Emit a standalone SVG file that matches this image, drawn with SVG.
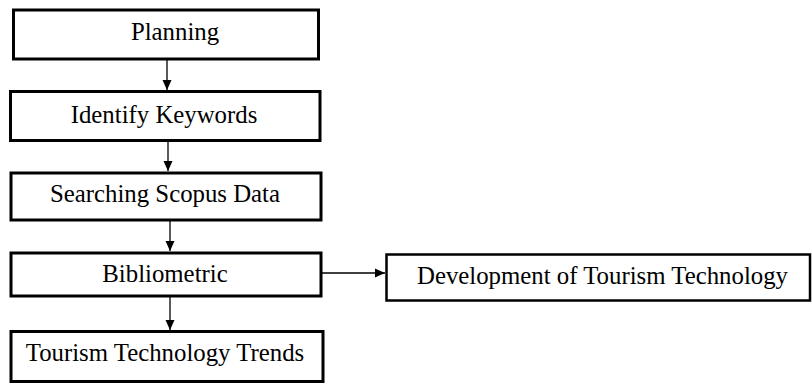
<svg xmlns="http://www.w3.org/2000/svg" width="812" height="385" viewBox="0 0 812 385">
<defs>
<style>
.box{fill:#fff;stroke:#000;stroke-width:3}
.box2{fill:#fff;stroke:#000;stroke-width:2.5}
.lbl{font-family:"Liberation Serif","Times New Roman",serif;font-size:24.8px;fill:#000;text-anchor:middle}
.conn{stroke:#000;stroke-width:1.3;fill:none}
</style>
<marker id="ah" viewBox="0 0 10 10" refX="10" refY="5" markerWidth="10" markerHeight="10" markerUnits="userSpaceOnUse" orient="auto">
<path d="M0,0.5 L10,5 L0,9.5 Z" fill="#000"/>
</marker>
</defs>
<rect width="812" height="385" fill="#fff"/>
<g id="connectors">
<line class="conn" x1="167" y1="60" x2="167" y2="90" marker-end="url(#ah)"/>
<line class="conn" x1="168" y1="142" x2="168" y2="171" marker-end="url(#ah)"/>
<line class="conn" x1="170" y1="221" x2="170" y2="251" marker-end="url(#ah)"/>
<line class="conn" x1="170" y1="297" x2="170" y2="330" marker-end="url(#ah)"/>
<line class="conn" x1="322" y1="273" x2="385" y2="273" marker-end="url(#ah)"/>
</g>
<g id="planning">
<rect class="box" x="13.5" y="10" width="305" height="49"/>
<text class="lbl" x="175" y="40">Planning</text>
</g>
<g id="identify-keywords">
<rect class="box" x="10.5" y="91.5" width="309.5" height="49"/>
<text class="lbl" x="164" y="123">Identify Keywords</text>
</g>
<g id="searching-scopus-data">
<rect class="box" x="11" y="173" width="310" height="47"/>
<text class="lbl" x="165" y="202">Searching Scopus Data</text>
</g>
<g id="bibliometric">
<rect class="box" x="11" y="253" width="310" height="43"/>
<text class="lbl" x="165" y="282">Bibliometric</text>
</g>
<g id="tourism-technology-trends">
<rect class="box" x="11" y="331.5" width="312" height="50"/>
<text class="lbl" x="165" y="361">Tourism Technology Trends</text>
</g>
<g id="development-of-tourism-technology">
<rect class="box2" x="386.5" y="254.5" width="423.5" height="46"/>
<text class="lbl" x="602.5" y="284">Development of Tourism Technology</text>
</g>
</svg>
